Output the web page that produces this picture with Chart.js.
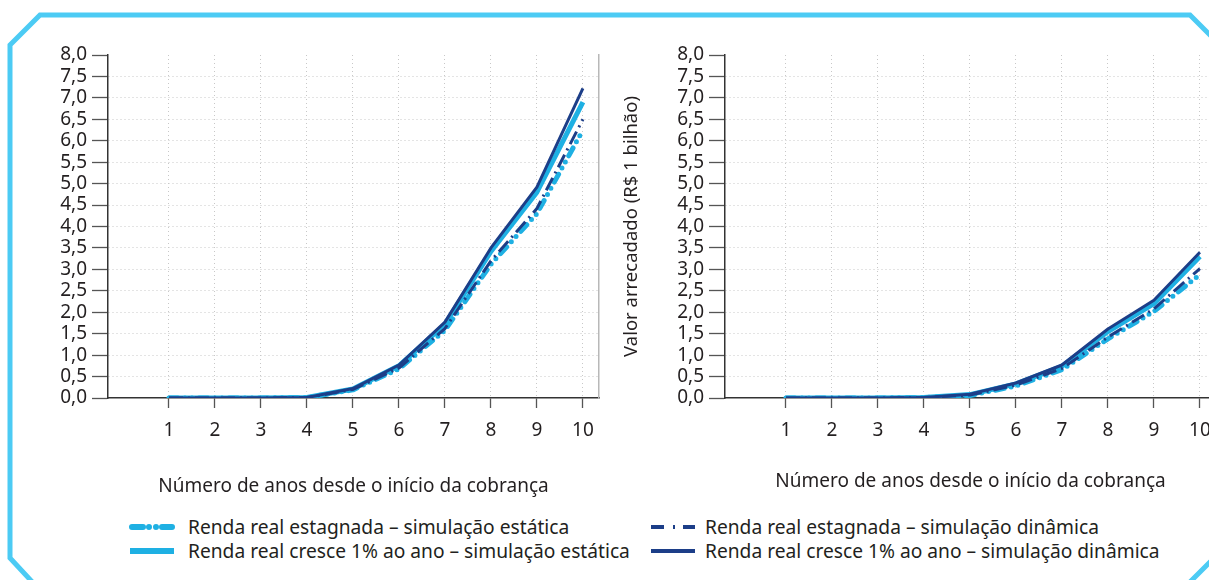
<!DOCTYPE html>
<html>
<head>
<meta charset="utf-8">
<script src="https://cdn.jsdelivr.net/npm/chart.js@4.4.1/dist/chart.umd.min.js"></script>
<style>
html, body { margin: 0; padding: 0; background: #fff; }
body { width: 1209px; height: 580px; overflow: hidden; position: relative; font-family: "Noto Sans", sans-serif; color: #231f20; }
#frame { position: absolute; left: 0; top: 0; }
.box { position: absolute; top: 0; width: 610px; height: 510px; }
#leftBox { left: 0; }
#rightBox { left: 617px; }
.sample { position: absolute; }
.legText { position: absolute; font-size: 19.2px; line-height: 24px; white-space: nowrap; }
</style>
</head>
<body>
<svg id="frame" width="1209" height="580">
  <polygon points="40,15 1190,15 1232,57 1232,540 1186,586 36,586 10,558 10,45" fill="none" stroke="#4ccbf4" stroke-width="5"/>
</svg>
<div class="box" id="leftBox"><canvas id="leftChart" width="610" height="510"></canvas></div>
<div class="box" id="rightBox"><canvas id="rightChart" width="610" height="510"></canvas></div>
<div id="legend"></div>

<script>
const years = [1, 2, 3, 4, 5, 6, 7, 8, 9, 10];
const yTicks = [0, 0.5, 1, 1.5, 2, 2.5, 3, 3.5, 4, 4.5, 5, 5.5, 6, 6.5, 7, 7.5, 8];

const seriesLabels = [
    "Renda real estagnada – simulação estática",
    "Renda real cresce 1% ao ano – simulação estática",
    "Renda real estagnada – simulação dinâmica",
    "Renda real cresce 1% ao ano – simulação dinâmica"
];

// left panel
const leftStaticStagnant = [0, 0, 0, 0.01, 0.19, 0.68, 1.58, 3.12, 4.30, 6.25];
const leftStaticGrowth   = [0, 0, 0, 0.01, 0.21, 0.75, 1.72, 3.42, 4.80, 6.90];
const leftDynStagnant    = [0, 0, 0, 0.01, 0.20, 0.70, 1.62, 3.20, 4.42, 6.50];
const leftDynGrowth      = [0, 0, 0, 0.01, 0.22, 0.77, 1.77, 3.50, 4.92, 7.22];

// right panel
const rightStaticStagnant = [0, 0, 0, 0.01, 0.06, 0.28, 0.66, 1.38, 2.02, 2.88];
const rightStaticGrowth   = [0, 0, 0, 0.01, 0.08, 0.33, 0.74, 1.55, 2.20, 3.30];
const rightDynStagnant    = [0, 0, 0, 0.01, 0.07, 0.30, 0.69, 1.42, 2.08, 3.02];
const rightDynGrowth      = [0, 0, 0, 0.01, 0.09, 0.35, 0.77, 1.61, 2.28, 3.40];

const xTitle = "Número de anos desde o início da cobrança";
const yTitle = "Valor arrecadado (R$ 1 bilhão)";

const cyan = "#1eb0e3";
const navy = "#1c3e88";
const ink = "#231f20";
const tickFont = { family: "Noto Sans", size: 19, lineHeight: 1.1 };
const titleFont = { family: "Noto Sans", size: 19, lineHeight: 1.2 };

const styles = [
    { borderColor: cyan, borderWidth: 5, borderDash: [9, 7, 0, 7, 0, 7], borderCapStyle: "round", order: 3 },
    { borderColor: cyan, borderWidth: 5, order: 4 },
    { borderColor: navy, borderWidth: 3, borderDash: [14, 5, 2, 5], order: 2 },
    { borderColor: navy, borderWidth: 3, order: 1 }
];

function pts(arr) {
    return years.map((x, i) => ({ x: x, y: arr[i] }));
}

function makeChart(id, series, showYTitle, titlePad) {
    const ctx = document.getElementById(id).getContext("2d");
    return new Chart(ctx, {
        type: "line",
        data: {
            datasets: series.map((s, i) => Object.assign({
                label: seriesLabels[i],
                data: pts(s),
                pointRadius: 0,
                tension: 0,
                fill: false,
                borderJoinStyle: "round"
            }, styles[i]))
        },
        options: {
            responsive: false,
            animation: false,
            devicePixelRatio: 1,
            layout: { padding: { left: 0, top: 55, right: 11, bottom: 0 } },
            plugins: { legend: { display: false }, tooltip: { enabled: false } },
            scales: {
                x: {
                    type: "linear",
                    min: -0.326,
                    max: 10.35,
                    afterBuildTicks: s => { s.ticks = years.map(v => ({ value: v })); },
                    ticks: { callback: v => String(v), font: tickFont, color: ink, padding: 12, maxRotation: 0, autoSkip: false },
                    grid: { color: "#c8c8c8", lineWidth: 1, tickColor: "#555", tickLength: 10, tickWidth: 1.3, tickBorderDash: [] },
                    border: { color: "#333", width: 1.5, dash: [1, 3] },
                    title: { display: true, text: xTitle, font: titleFont, color: ink, padding: { top: 0, bottom: titlePad } },
                    afterFit: s => { s.height = 112; }
                },
                y: {
                    min: 0,
                    max: 8,
                    afterBuildTicks: s => { s.ticks = yTicks.map(v => ({ value: v })); },
                    ticks: { callback: v => v.toFixed(1).replace(".", ","), font: tickFont, color: ink, padding: 5, autoSkip: false },
                    grid: {
                        color: c => (c.tick && (c.tick.value === 0 || c.tick.value === 8)) ? "rgba(0,0,0,0)" : "#c8c8c8",
                        lineWidth: 1, tickColor: "#555", tickLength: 16, tickWidth: 1.3, tickBorderDash: []
                    },
                    border: { color: "#333", width: 1.5, dash: [1, 3] },
                    title: { display: showYTitle, text: yTitle, font: { family: "Noto Sans", size: 18.5, lineHeight: 1.2 }, color: ink, padding: { top: 4, bottom: 0 } },
                    afterFit: s => { s.width = 108; }
                },
                y2: {
                    position: "right",
                    min: 0,
                    max: 8,
                    ticks: { display: false },
                    grid: { display: false, drawTicks: false },
                    border: { color: "#b8b8b8", width: 1.5 },
                    afterFit: s => { s.width = 0; }
                }
            }
        }
    });
}

const leftChart = makeChart("leftChart",
    [leftStaticStagnant, leftStaticGrowth, leftDynStagnant, leftDynGrowth], false, 12);
const rightChart = makeChart("rightChart",
    [rightStaticStagnant, rightStaticGrowth, rightDynStagnant, rightDynGrowth], true, 17);

// legend in two columns, samples drawn with the dataset styles
const legendPos = [
    { sx: 128, tx: 188, y: 527 },
    { sx: 128, tx: 188, y: 551 },
    { sx: 649, tx: 705, y: 527 },
    { sx: 649, tx: 705, y: 551 }
];
const legend = document.getElementById("legend");
leftChart.data.datasets.forEach((ds, i) => {
    const p = legendPos[i];
    const c = document.createElement("canvas");
    c.width = 48; c.height = 14;
    c.className = "sample";
    c.style.left = p.sx + "px";
    c.style.top = (p.y - 7) + "px";
    legend.appendChild(c);
    const g = c.getContext("2d");
    g.strokeStyle = ds.borderColor;
    g.lineWidth = ds.borderWidth + 1;
    g.lineCap = ds.borderCapStyle || "butt";
    g.setLineDash(ds.borderDash ? (i === 0 ? [11, 6, 0, 7, 0, 6] : [13, 9, 2, 8]) : []);
    g.beginPath();
    const pad = g.lineCap === "round" ? 4 : 2;
    g.moveTo(pad, 7);
    g.lineTo(c.width - pad, 7);
    g.stroke();

    const t = document.createElement("div");
    t.className = "legText";
    t.textContent = ds.label;
    t.style.left = p.tx + "px";
    t.style.top = (p.y - 12) + "px";
    legend.appendChild(t);
});
</script>
</body>
</html>
